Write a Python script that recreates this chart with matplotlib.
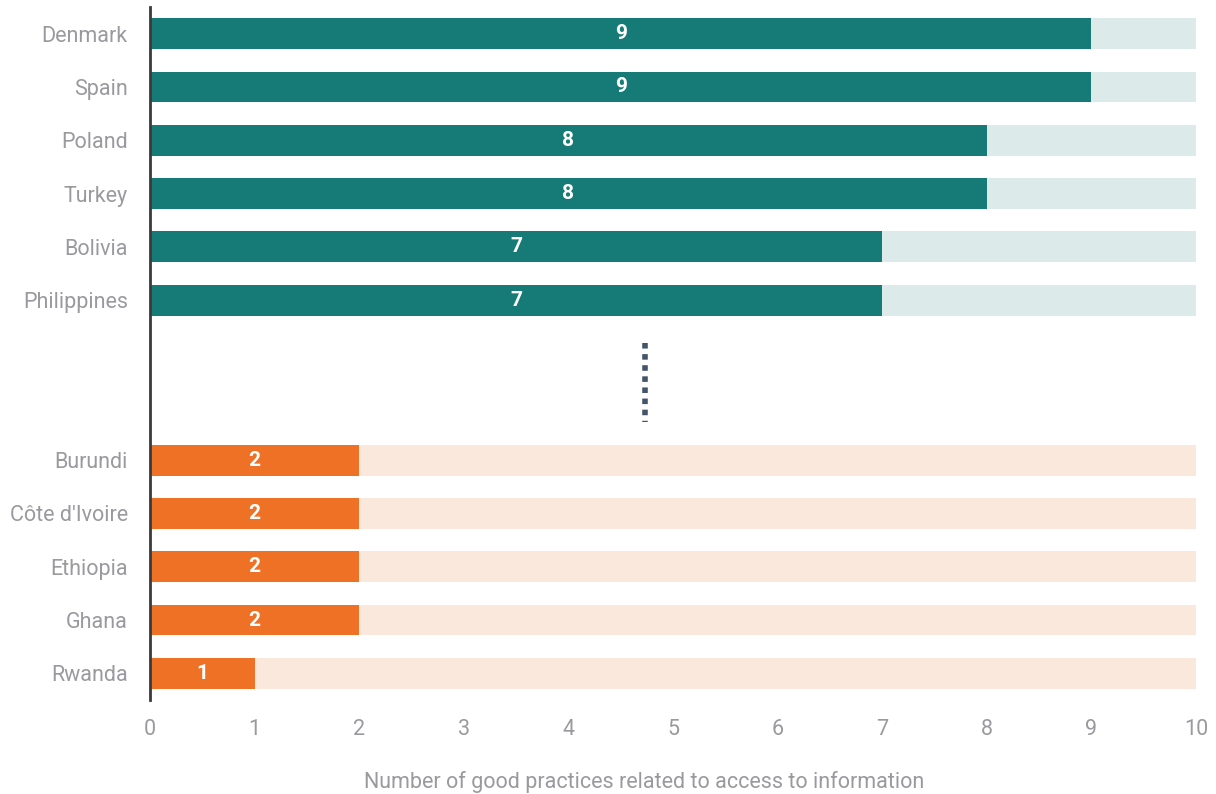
import matplotlib
matplotlib.use("Agg")
import matplotlib.pyplot as plt

top_countries = ["Denmark", "Spain", "Poland", "Turkey", "Bolivia", "Philippines"]
top_values = [9, 9, 8, 8, 7, 7]
bottom_countries = ["Burundi", "Côte d'Ivoire", "Ethiopia", "Ghana", "Rwanda"]
bottom_values = [2, 2, 2, 2, 1]
max_value = 10
x_ticks = [0, 1, 2, 3, 4, 5, 6, 7, 8, 9, 10]
x_label = "Number of good practices related to access to information"

plt.rcParams['font.family'] = ['Roboto', 'DejaVu Sans']

TEAL = "#167B76"
TEAL_LIGHT = "#DCEBE9"
ORANGE = "#EE7125"
ORANGE_LIGHT = "#FBE8DD"
GRAY = "#9A9A9E"

fig = plt.figure(figsize=(12.16, 7.94), dpi=100)
ax = fig.add_axes([150/1216, 1-700/794, (1196-150)/1216, (700-7)/794])

top_pos = list(range(len(top_countries)))
bottom_start = len(top_countries) + 2
bottom_pos = [bottom_start + i for i in range(len(bottom_countries))]

h = 0.58
ax.barh(top_pos, [max_value]*len(top_pos), height=h, color=TEAL_LIGHT, zorder=1)
ax.barh(top_pos, top_values, height=h, color=TEAL, zorder=2)
ax.barh(bottom_pos, [max_value]*len(bottom_pos), height=h, color=ORANGE_LIGHT, zorder=1)
ax.barh(bottom_pos, bottom_values, height=h, color=ORANGE, zorder=2)

for p, v in zip(top_pos + bottom_pos, top_values + bottom_values):
    ax.text(v/2, p, str(v), ha='center', va='center', color='white',
            fontsize=15, fontweight='bold', zorder=3)

# dotted ellipsis between groups
ax.plot([4.735, 4.735], [len(top_countries) - 0.2, bottom_start - 0.72],
        color="#44546A", linestyle=(0, (1, 1)), linewidth=4, solid_capstyle='butt',
        dash_capstyle='butt', zorder=3)

ax.set_xlim(0, max_value)
ax.set_ylim(bottom_pos[-1] + 0.5, -0.5)
ax.set_yticks(top_pos + bottom_pos)
ax.set_yticklabels(top_countries + bottom_countries)
ax.set_xticks(x_ticks)
ax.tick_params(axis='y', length=0, pad=16, labelsize=15.5, labelcolor=GRAY)
ax.tick_params(axis='x', length=0, pad=14, labelsize=15.5, labelcolor=GRAY)
for s in ['top', 'right', 'bottom']:
    ax.spines[s].set_visible(False)
ax.spines['left'].set_color("#3A3A3C")
ax.spines['left'].set_linewidth(2)
ax.spines['left'].set_zorder(5)
ax.set_xlabel(x_label, fontsize=15.5, color=GRAY)
ax.xaxis.set_label_coords((644 - 150) / 1046, -0.103)

fig.savefig("out.png", dpi=100)
